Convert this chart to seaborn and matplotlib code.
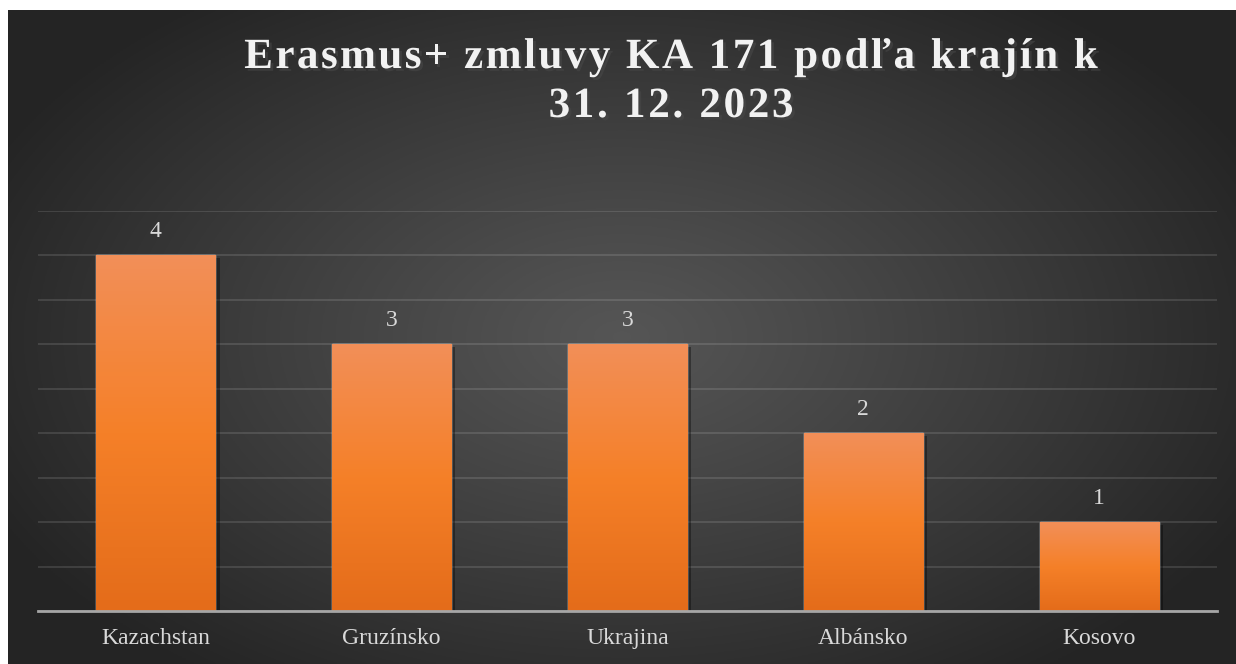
import numpy as np
import matplotlib
matplotlib.use("Agg")
import matplotlib.pyplot as plt
import matplotlib.patheffects as pe
from matplotlib.font_manager import FontProperties
import seaborn as sns

countries = ["Kazachstan", "Gruzínsko", "Ukrajina", "Albánsko", "Kosovo"]
contracts = [4, 3, 3, 2, 1]
title_lines = ["Erasmus+ zmluvy KA 171 podľa krajín k", "31. 12. 2023"]

sns.set_theme(style="white")
plt.rcParams["font.family"] = ["Liberation Serif", "DejaVu Serif"]

W, H = 1236, 664
fig = plt.figure(figsize=(W / 100, H / 100), dpi=100)
fig.patch.set_facecolor("white")

# dark radial background
bg = fig.add_axes([8 / W, 0, 1 - 8 / W, 1 - 10 / H])
yy, xx = np.mgrid[0:1:300j, 0:1:600j]
r = np.sqrt(((xx - 0.5) / 0.75) ** 2 + ((yy - 0.5) / 0.85) ** 2)
r = np.clip(r / 0.75, 0, 1)
shade = 0.335 - (0.335 - 0.145) * r ** 1.1
bg.imshow(np.dstack([shade, shade, shade]), aspect="auto", extent=[0, 1, 0, 1])
bg.set_axis_off()

ax = fig.add_axes([38 / W, (H - 611) / H, 1179 / W, 400 / H])
ax.patch.set_alpha(0)
sns.barplot(x=countries, y=contracts, color="#F5812A", width=0.505, ax=ax,
            saturation=1, zorder=3)

# orange vertical gradient on bars
top = np.array([242, 143, 88]) / 255
mid = np.array([245, 128, 40]) / 255
bot = np.array([228, 108, 26]) / 255
t = np.linspace(0, 1, 100)[:, None]
grad = np.where(t < 0.5, top + (mid - top) * (t / 0.5), mid + (bot - mid) * ((t - 0.5) / 0.5))
grad = grad[:, None, :]
for p in ax.patches:
    p.set_path_effects([pe.SimplePatchShadow(offset=(3, -2), shadow_rgbFace="black", alpha=0.35),
                        pe.Normal()])
    x0, w, h = p.get_x(), p.get_width(), p.get_height()
    im = ax.imshow(grad, aspect="auto", extent=[x0, x0 + w, 0, h], zorder=4)
    im.set_clip_path(p)

for i, v in enumerate(contracts):
    ax.text(i, v + 0.27, str(v), ha="center", va="center", color="#D9D9D9", fontsize=17)

ax.set_xlim(-0.5, len(countries) - 0.5)
ax.set_ylim(0, 4.5)
ax.set_yticks(np.arange(0, 4.51, 0.5))
ax.set_yticklabels([])
ax.tick_params(axis="y", length=0)
ax.yaxis.grid(True, color="#FFFFFF", alpha=0.12, lw=1.4, zorder=0)
ax.set_axisbelow(True)
for s in ["top", "right", "left"]:
    ax.spines[s].set_visible(False)
ax.spines["bottom"].set_color("#A6A6A6")
ax.spines["bottom"].set_linewidth(2)
ax.spines["bottom"].set_zorder(5)
ax.tick_params(axis="x", length=0, pad=12, labelsize=17, labelcolor="#D9D9D9")
ax.set_xlabel("")
ax.set_ylabel("")


# title with letter spacing, drawn glyph by glyph
def spaced_title(s, xc, yb, sp, size=31):
    rend = fig.canvas.get_renderer()
    prop = FontProperties(family="Liberation Serif", weight="bold", size=size)
    base = rend.get_text_width_height_descent("II", prop, False)[0]
    adv = [rend.get_text_width_height_descent("I" + c + "I", prop, False)[0] - base for c in s]
    total = sum(adv) + sp * (len(s) - 1)
    x = xc - total / 2
    for c, a in zip(s, adv):
        if c != " ":
            fig.text(x / W, 1 - yb / H, c, ha="left", va="baseline", color="#F2F2F2",
                     fontproperties=prop,
                     path_effects=[pe.withSimplePatchShadow(offset=(2, -2), alpha=0.55)])
        x += a + sp


spaced_title(title_lines[0], 671, 68, 2.5)
spaced_title(title_lines[1], 671, 117, 2.7)

fig.savefig("out.png", dpi=100)
